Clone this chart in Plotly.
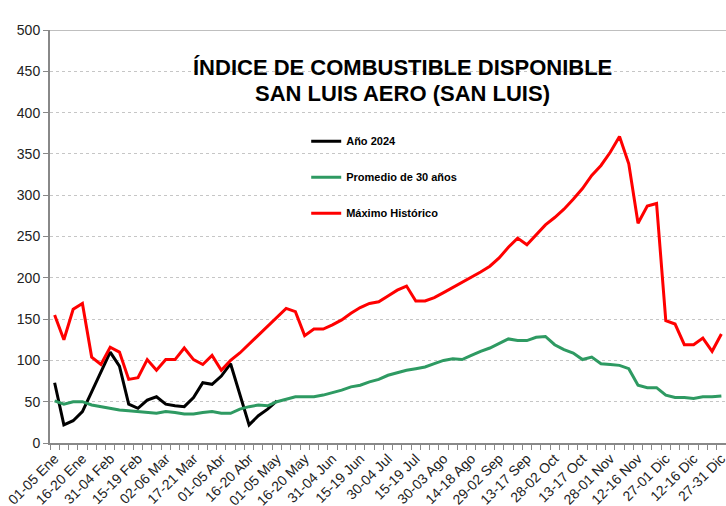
import plotly.graph_objects as go

tick_labels = ["01-05 Ene", "16-20 Ene", "31-04 Feb", "15-19 Feb", "02-06 Mar", "17-21 Mar",
               "01-05 Abr", "16-20 Abr", "01-05 May", "16-20 May", "31-04 Jun", "15-19 Jun",
               "30-04 Jul", "15-19 Jul", "30-03 Ago", "14-18 Ago", "29-02 Sep", "13-17 Sep",
               "28-02 Oct", "13-17 Oct", "28-01 Nov", "12-16 Nov", "27-01 Dic", "12-16 Dic",
               "27-31 Dic"]

anio_2024 = [73, 22, 27, 38, 62, 86, 110, 93, 47, 42, 52, 56, 47, 45, 44, 55, 73, 71, 81, 96,
             58, 22, 33, 41, 51]

promedio_30 = [51, 47, 50, 50, 46, 44, 42, 40, 39, 38, 37, 36, 38, 37, 35, 35, 37, 38, 36, 36,
               41, 44, 46, 45, 50, 53, 56, 56, 56, 58, 61, 64, 68, 70, 74, 77, 82, 85, 88, 90,
               92, 96, 100, 102, 101, 106, 111, 115, 121, 126, 124, 124, 128, 129, 119, 113, 109, 101,
               104, 96, 95, 94, 90, 70, 67, 67, 58, 55, 55, 54, 56, 56, 57]

maximo_hist = [155, 125, 162, 169, 104, 95, 116, 110, 77, 79, 101, 88, 101, 101, 115, 101, 95, 106,
               88, 100, 109, 120, 131, 141, 152, 163, 159, 130, 138, 138, 143, 149, 157, 164, 169,
               171, 178, 185, 190, 172, 172, 176, 182, 188, 195, 200, 207, 214, 224, 237, 248, 240,
               252, 264, 273, 283, 295, 308, 324, 336, 352, 371, 338, 266, 287, 290, 148, 144, 119,
               119, 127, 111, 132]

title_lines = ["ÍNDICE DE COMBUSTIBLE DISPONIBLE", "SAN LUIS AERO (SAN LUIS)"]

n = len(maximo_hist)
x_all = list(range(n))
tick_pos = list(range(0, n, 3))

fig = go.Figure()
fig.add_trace(go.Scatter(x=x_all[:len(anio_2024)], y=anio_2024, mode="lines", name="Año 2024",
                         line=dict(color="#000000", width=3), legendgroup="a"))
fig.add_trace(go.Scatter(x=x_all, y=promedio_30, mode="lines", name="Promedio de 30 años",
                         line=dict(color="#2E9A62", width=3), legendgroup="b"))
fig.add_trace(go.Scatter(x=x_all, y=maximo_hist, mode="lines", name="Máximo Histórico",
                         line=dict(color="#FF0000", width=3), legendgroup="c"))

fig.update_layout(
    width=726, height=506,
    margin=dict(l=50, r=0, t=30, b=63, autoexpand=False),
    paper_bgcolor="white", plot_bgcolor="white",
    font=dict(family="Liberation Sans, Arial, sans-serif", color="#222"),
    showlegend=True,
    legend=dict(x=0.379, y=0.766, xanchor="left", yanchor="top", bgcolor="rgba(0,0,0,0)",
                font=dict(size=11, color="#000", family="Liberation Sans, Arial, sans-serif", weight="bold"),
                tracegroupgap=17, itemwidth=30),
    xaxis=dict(range=[-0.5, n - 0.5], tickmode="array", tickvals=tick_pos, ticktext=tick_labels,
               tickangle=-45, ticks="", showgrid=False, zeroline=False, automargin=False,
               ticklabeloverflow="allow",
               showline=True, linecolor="#888", linewidth=2,
               tickfont=dict(size=14, color="#222"),
               minor=dict(ticks="outside", tick0=-0.5, dtick=1, ticklen=5, tickcolor="#888",
                          tickwidth=1, showgrid=False)),
    yaxis=dict(range=[0, 500], dtick=50, showgrid=True, gridcolor="#c6c6c6", griddash="dot",
               gridwidth=1, zeroline=False, showline=True, linecolor="#888", linewidth=2,
               automargin=False,
               ticks="outside", ticklen=5, tickcolor="#888", tickfont=dict(size=14, color="#222")),
)

fig.add_shape(type="line", xref="paper", yref="y", x0=0, x1=1, y0=500, y1=500,
              line=dict(color="#aaa", width=1.5))

for i, (txt, ypx) in enumerate(zip(title_lines, [68, 93])):
    fig.add_annotation(xref="paper", yref="paper", x=(402 - 50) / 676, y=1 - (ypx - 30) / 413,
                       text="<b>" + txt + "</b>",
                       showarrow=False, xanchor="center", yanchor="middle",
                       font=dict(size=22, color="#000", family="Liberation Sans, Arial, sans-serif"))

fig.write_html("out.html", config={"displayModeBar": False},
               post_script="document.body.style.margin='0';document.body.style.overflow='hidden';")
